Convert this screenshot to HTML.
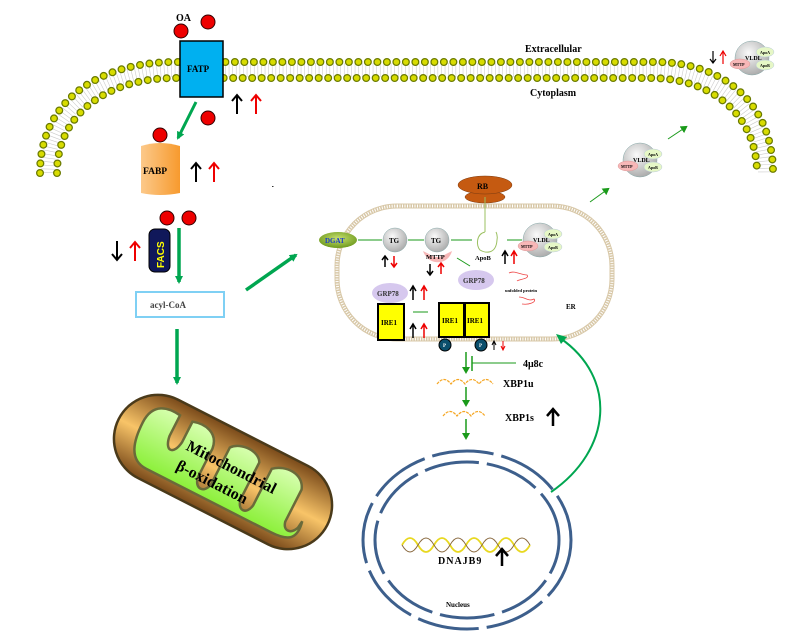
<!DOCTYPE html>
<html><head><meta charset="utf-8"><style>
html,body{margin:0;padding:0;background:#fff;}
svg{display:block;font-family:"Liberation Serif",serif;font-weight:bold;}
</style></head><body>
<svg width="794" height="636" viewBox="0 0 794 636" xmlns="http://www.w3.org/2000/svg">
<defs>
<marker id="ga" markerWidth="10" markerHeight="10" refX="6" refY="5" orient="auto" markerUnits="userSpaceOnUse"><path d="M0,1 L8,5 L0,9 z" fill="#00a650"/></marker>
<marker id="gs" markerWidth="8" markerHeight="8" refX="5" refY="4" orient="auto" markerUnits="userSpaceOnUse"><path d="M0,0 L7,4 L0,8 z" fill="#1a9a1a"/></marker>
<linearGradient id="fabp" x1="0" x2="1"><stop offset="0" stop-color="#fcc98a"/><stop offset="1" stop-color="#f79a2e"/></linearGradient>
<radialGradient id="gray" cx="0.4" cy="0.35" r="0.7"><stop offset="0" stop-color="#fafafa"/><stop offset="1" stop-color="#a8a8a8"/></radialGradient>
<radialGradient id="dg" cx="0.5" cy="0.4" r="0.6"><stop offset="0" stop-color="#c8e070"/><stop offset="1" stop-color="#6e9a1e"/></radialGradient>
<linearGradient id="mito" x1="0" y1="0" x2="0" y2="1"><stop offset="0" stop-color="#7a4a1a"/><stop offset="0.5" stop-color="#f8c468"/><stop offset="1" stop-color="#7a4a1a"/></linearGradient>
<linearGradient id="mg" x1="0" y1="0" x2="0" y2="1"><stop offset="0" stop-color="#d8ffb0"/><stop offset="1" stop-color="#8cf03a"/></linearGradient>
<g id="vldl">
<circle cx="0" cy="0" r="17" fill="url(#gray)" stroke="#8aa" stroke-width="0.5"/>
<text x="-7" y="2" font-size="6">VLDL</text>
<ellipse cx="13" cy="-6" rx="9" ry="5" fill="#e6f7c6" stroke="#bcd" stroke-width="0.5"/><text x="8" y="-4" font-size="4">ApoA</text>
<ellipse cx="13" cy="7" rx="9" ry="5" fill="#e6f7c6" stroke="#bcd" stroke-width="0.5"/><text x="8" y="9" font-size="4">ApoB</text>
<ellipse cx="-12" cy="6" rx="10" ry="5" fill="#f7b7b7" stroke="#d99" stroke-width="0.5"/><text x="-19" y="8" font-size="4">MTTP</text>
</g>
</defs>

<!-- membrane -->
<g fill="none">
<path d="M48,173 C48,105 105,70 175,70 L650,70 C720,70 765,110 765,173" stroke="#ccc" stroke-width="14" stroke-dasharray="0.6 3"/>
<path d="M40,173 C40,100 100,62 175,62 L655,62 C725,62 773,105 773,173" stroke="#6a7a00" stroke-width="8" stroke-linecap="round" stroke-dasharray="0 9.5"/>
<path d="M40,173 C40,100 100,62 175,62 L655,62 C725,62 773,105 773,173" stroke="#d8dc00" stroke-width="5.5" stroke-linecap="round" stroke-dasharray="0 9.5"/>
<path d="M57,173 C57,112 110,78 175,78 L650,78 C715,78 757,118 757,173" stroke="#6a7a00" stroke-width="8" stroke-linecap="round" stroke-dasharray="0 9.5"/>
<path d="M57,173 C57,112 110,78 175,78 L650,78 C715,78 757,118 757,173" stroke="#d8dc00" stroke-width="5.5" stroke-linecap="round" stroke-dasharray="0 9.5"/>
</g>
<text x="525" y="52" font-size="10">Extracellular</text>
<text x="530" y="96" font-size="10">Cytoplasm</text>

<!-- FATP -->
<text x="176" y="21" font-size="10">OA</text>
<circle cx="181" cy="31" r="7" fill="#e00" stroke="#300" stroke-width="1"/>
<circle cx="208" cy="22" r="7" fill="#e00" stroke="#300" stroke-width="1"/>
<rect x="180" y="41" width="43" height="56" fill="#00b0f0" stroke="#000" stroke-width="1.5"/>
<text x="187" y="72" font-size="9">FATP</text>
<circle cx="208" cy="118" r="7" fill="#e00" stroke="#300" stroke-width="1"/>
<circle cx="160" cy="135" r="7" fill="#e00" stroke="#300" stroke-width="1"/>
<line x1="196" y1="102" x2="178" y2="138" stroke="#00a650" stroke-width="3" marker-end="url(#ga)"/>

<g stroke-width="2" fill="none">
<path d="M237,114 V96 M232,101 L237,95 L242,101" stroke="#000"/>
<path d="M256,114 V96 M251,101 L256,95 L261,101" stroke="#e00"/>
<path d="M196,182 V164 M191,169 L196,163 L201,169" stroke="#000"/>
<path d="M214,182 V164 M209,169 L214,163 L219,169" stroke="#e00"/>
<path d="M117,241 V259 M112,254 L117,260 L122,254" stroke="#000"/>
<path d="M135,261 V243 M130,248 L135,242 L140,248" stroke="#e00"/>
</g>

<!-- FABP -->
<path d="M141,146 Q160,140 180,146 V193 Q160,197 141,193 Z" fill="url(#fabp)"/>
<text x="143" y="174" font-size="9.5">FABP</text>

<!-- FACS -->
<circle cx="167" cy="218" r="7" fill="#e00" stroke="#300" stroke-width="1"/>
<circle cx="189" cy="218" r="7" fill="#e00" stroke="#300" stroke-width="1"/>
<rect x="149" y="229" width="21" height="43" rx="6" fill="#10185a" stroke="#000"/>
<text transform="translate(164,268) rotate(-90)" font-family="Liberation Sans,sans-serif" font-size="10" fill="#ff0">FACS</text>
<line x1="179" y1="228" x2="179" y2="282" stroke="#00a650" stroke-width="3.5" marker-end="url(#ga)"/>
<rect x="136" y="292" width="88" height="25" fill="#fff" stroke="#7fd0f4" stroke-width="2"/>
<text x="150" y="308" font-size="9" fill="#444">acyl-CoA</text>
<line x1="177" y1="329" x2="177" y2="383" stroke="#00a650" stroke-width="3.5" marker-end="url(#ga)"/>
<line x1="246" y1="290" x2="296" y2="255" stroke="#00a650" stroke-width="3.5" marker-end="url(#ga)"/>

<!-- Mitochondrion -->
<g transform="translate(223,472) rotate(27)">
<rect x="-117" y="-44" width="234" height="88" rx="44" fill="url(#mito)" stroke="#4a3a1a" stroke-width="2.5"/>
<path d="M-94,-8 C-94,-30 -78,-33 -64,-31 L-64,-8 C-62,8 -52,8 -50,-8 L-50,-31 C-38,-35 -22,-33 -20,-16 L-20,16 C-18,28 -7,28 -5,16 L-5,-25 C3,-35 23,-35 28,-25 L28,16 C30,28 40,28 42,16 L42,-25 C53,-35 73,-35 78,-20 L78,16 C80,25 88,25 92,16 L93,8 C97,26 90,32 70,32 L-70,32 C-90,32 -94,12 -94,-8 Z" fill="url(#mg)" stroke="#6a6a3a" stroke-width="2.5"/>
<text x="-44" y="-3" font-size="16">Mitochondrial</text>
<text x="-44" y="19" font-size="16">β-oxidation</text>
</g>

<!-- ER -->
<rect x="337" y="206" width="275" height="133" rx="60" fill="none" stroke="#d8c8a8" stroke-width="5"/>
<rect x="337" y="206" width="275" height="133" rx="60" fill="none" stroke="#fff" stroke-width="3" stroke-dasharray="1 1.5"/>
<ellipse cx="485" cy="197" rx="20" ry="6" fill="#c55a11" stroke="#7a3a10" stroke-width="0.5"/>
<ellipse cx="485" cy="185" rx="27" ry="9" fill="#c55a11" stroke="#7a3a10" stroke-width="0.5"/>
<text x="477" y="189" font-size="8">RB</text>
<text x="566" y="309" font-size="7">ER</text>

<g stroke="#1a9a1a" stroke-width="1">
<line x1="358" y1="240" x2="382" y2="240"/><line x1="408" y1="240" x2="424" y2="240"/><line x1="451" y1="240" x2="472" y2="240"/><line x1="507" y1="240" x2="522" y2="240"/>
<line x1="457" y1="258" x2="470" y2="266"/><line x1="413" y1="312" x2="428" y2="312"/>
</g>
<ellipse cx="338" cy="240" rx="19" ry="8" fill="url(#dg)"/>
<text x="325" y="243" font-size="7" fill="#1a3acc">DGAT</text>
<circle cx="395" cy="240" r="12" fill="url(#gray)" stroke="#8aa" stroke-width="0.5"/><text x="389" y="243" font-size="7">TG</text>
<path d="M423,249 C428,264 448,264 452,249 L446,252 C440,256 434,256 429,252 Z" fill="#f7b7b7" transform="translate(0,2)"/>
<circle cx="437" cy="240" r="12" fill="url(#gray)" stroke="#8aa" stroke-width="0.5"/><text x="431" y="243" font-size="7">TG</text>
<text x="426" y="259" font-size="6.5">MTTP</text>
<path d="M485,197 V232 M485,232 C476,234 476,246 480,250 C485,253 496,255 497,240 C498,236 496,232 496,232" fill="none" stroke="#9bc060" stroke-width="1"/>
<text x="475" y="260" font-size="6.5">ApoB</text>
<use href="#vldl" transform="translate(540,240)"/>
<ellipse cx="476" cy="280" rx="18" ry="10" fill="#d6c8ee"/><text x="463" y="283" font-size="7" fill="#333">GRP78</text>
<path d="M509,273 c5,-3 12,2 18,2 c3,4 -8,4 -10,6 M519,297 c6,0 10,5 15,2 c3,3 -5,6 -12,5" fill="none" stroke="#e44" stroke-width="0.8"/>
<text x="505" y="292" font-size="4.5">unfolded protein</text>
<ellipse cx="390" cy="293" rx="18" ry="10" fill="#d6c8ee"/><text x="377" y="296" font-size="7" fill="#333">GRP78</text>

<g stroke-width="1.5" fill="none">
<path d="M385,267 V257 M382,260 L385,256 L388,260" stroke="#000"/>
<path d="M394,256 V266 M391,263 L394,267 L397,263" stroke="#e00"/>
<path d="M430,264 V274 M427,271 L430,275 L433,271" stroke="#000"/>
<path d="M441,274 V264 M438,267 L441,263 L444,267" stroke="#e00"/>
<path d="M505,264 V252 M502,256 L505,251 L508,256" stroke="#000"/>
<path d="M514,264 V252 M511,256 L514,251 L517,256" stroke="#e00"/>
<path d="M413,300 V287 M410,291 L413,286 L416,291" stroke="#000"/>
<path d="M424,300 V287 M421,291 L424,286 L427,291" stroke="#e00"/>
<path d="M413,338 V325 M410,329 L413,324 L416,329" stroke="#000"/>
<path d="M424,338 V325 M421,329 L424,324 L427,329" stroke="#e00"/>
<path d="M494,350 V342 M492,345 L494,341 L496,345" stroke="#000" stroke-width="1"/>
<path d="M503,341 V349 M501,346 L503,350 L505,346" stroke="#e00" stroke-width="1"/>
</g>
<rect x="378" y="304" width="26" height="36" fill="#ff0" stroke="#000" stroke-width="2"/><text x="381" y="325" font-size="7">IRE1</text>
<rect x="439" y="303" width="25" height="34" fill="#ff0" stroke="#000" stroke-width="2"/><text x="442" y="323" font-size="7">IRE1</text>
<rect x="465" y="303" width="24" height="34" fill="#ff0" stroke="#000" stroke-width="2"/><text x="467" y="323" font-size="7">IRE1</text>
<circle cx="445" cy="345" r="6" fill="#0b4f6c" stroke="#000"/><text x="443" y="347" font-size="5" fill="#fff">P</text>
<circle cx="481" cy="345" r="6" fill="#0b4f6c" stroke="#000"/><text x="479" y="347" font-size="5" fill="#fff">P</text>

<!-- XBP1 chain -->
<g stroke="#1a9a1a" stroke-width="1.5">
<line x1="466" y1="352" x2="466" y2="372" marker-end="url(#gs)"/>
<line x1="472" y1="356" x2="472" y2="371"/><line x1="472" y1="363" x2="516" y2="363" stroke-width="1"/>
<line x1="466" y1="387" x2="466" y2="405" marker-end="url(#gs)"/>
<line x1="466" y1="419" x2="466" y2="438" marker-end="url(#gs)"/>
</g>
<text x="523" y="367" font-size="10">4μ8c</text>
<path d="M437,384 q7,-9 14,0 q7,-9 14,0 q7,-9 14,0 q7,-9 14,0" fill="none" stroke="#f5a623" stroke-width="1.2" stroke-dasharray="3 1"/>
<text x="503" y="387" font-size="10">XBP1u</text>
<path d="M443,416 q7,-9 14,0 q7,-9 14,0 q7,-9 14,0" fill="none" stroke="#f5a623" stroke-width="1.2" stroke-dasharray="3 1"/>
<text x="505" y="421" font-size="10">XBP1s</text>
<path d="M553,426 V410 M547,416 L553,409 L559,416" stroke="#000" stroke-width="2.5" fill="none"/>

<!-- nucleus -->
<ellipse cx="467" cy="540" rx="104" ry="89" fill="none" stroke="#3d5f8c" stroke-width="3" stroke-dasharray="62 8"/>
<ellipse cx="467" cy="540" rx="92" ry="78" fill="none" stroke="#3d5f8c" stroke-width="3" stroke-dasharray="55 8" stroke-dashoffset="20"/>
<path d="M402,545 q8,-14 16,0 q8,14 16,0 q8,-14 16,0 q8,14 16,0 q8,-14 16,0 q8,14 16,0 q8,-14 16,0 q8,14 16,0" fill="none" stroke="#e8d820" stroke-width="1.8"/>
<path d="M402,545 q8,14 16,0 q8,-14 16,0 q8,14 16,0 q8,-14 16,0 q8,14 16,0 q8,-14 16,0 q8,14 16,0 q8,-14 16,0" fill="none" stroke="#8a6a40" stroke-width="1"/>
<text x="438" y="564" font-size="10" letter-spacing="1">DNAJB9</text>
<path d="M502,566 V550 M496,556 L502,549 L508,556" stroke="#000" stroke-width="2.5" fill="none"/>
<text x="446" y="607" font-size="7">Nucleus</text>
<path d="M551,492 C612,450 618,378 560,338" fill="none" stroke="#00a650" stroke-width="2"/>
<path d="M556,334 L567,337 L561,344 Z" fill="#00a650"/>

<!-- VLDL export -->
<line x1="590" y1="202" x2="608" y2="189" stroke="#1a9a1a" stroke-width="1" marker-end="url(#gs)"/>
<line x1="668" y1="139" x2="686" y2="127" stroke="#1a9a1a" stroke-width="1" marker-end="url(#gs)"/>
<use href="#vldl" transform="translate(640,160)"/>
<use href="#vldl" transform="translate(752,58)"/>
<g stroke-width="1.2" fill="none">
<path d="M713,51 V63 M710,59 L713,63 L716,59" stroke="#000"/>
<path d="M723,64 V52 M720,56 L723,51 L726,56" stroke="#e00"/>
</g>
<rect x="272" y="186" width="1.5" height="1" fill="#333"/>
</svg>
</body></html>
